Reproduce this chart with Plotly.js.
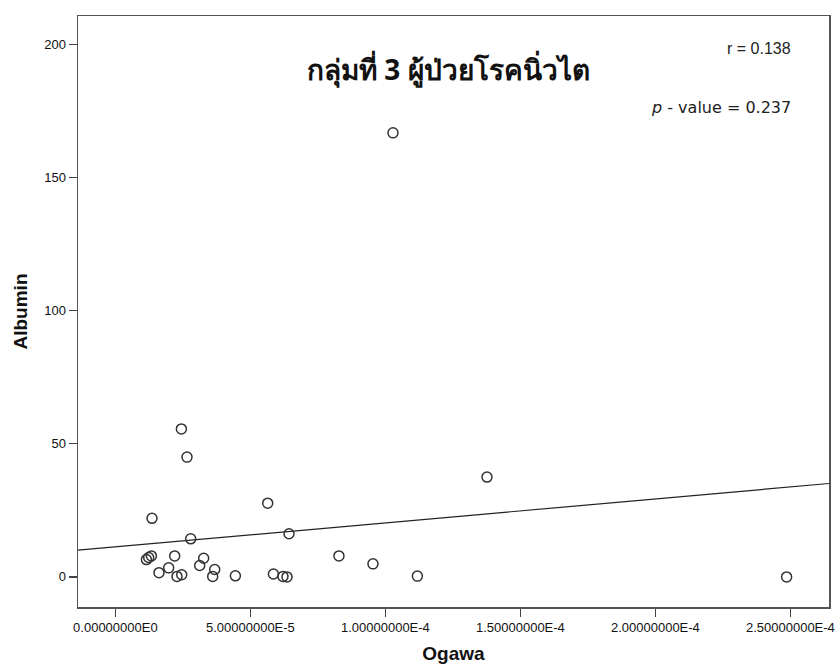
<!DOCTYPE html>
<html>
<head>
<meta charset="utf-8">
<script src="https://cdn.plot.ly/plotly-3.0.1.min.js"></script>
<style>html,body{margin:0;padding:0;background:#fff;}#chart{width:840px;height:668px;}</style>
</head>
<body>
<div id="chart"></div>
<script>
// Data
const ogawa = [2.444e-5, 2.652e-5, 5.641e-5, 1.356e-5, 2.789e-5, 6.430e-5,
  1.148e-5, 1.233e-5, 1.333e-5, 2.196e-5, 3.270e-5, 3.122e-5, 3.678e-5,
  1.974e-5, 1.615e-5, 2.281e-5, 2.456e-5, 3.604e-5, 4.444e-5, 5.852e-5,
  6.207e-5, 6.356e-5, 8.28e-5, 9.54e-5, 1.1185e-4, 1.3763e-4, 2.486e-4, 1.0281e-4];
const albumin = [55.6, 45.0, 27.7, 22.0, 14.3, 16.2,
  6.5, 7.3, 7.9, 7.9, 7.0, 4.3, 2.8,
  3.4, 1.6, 0.2, 0.8, 0.2, 0.4, 1.1,
  0.2, 0.0, 7.9, 4.9, 0.3, 37.5, 0.0, 166.8];
const fitIntercept = 11.28;   // fitted line
const fitSlope = 90093;
const xRange = [-1.385e-5, 2.643e-4];
const yRange = [-11.3, 210.7];
const xTicks = [0, 5e-5, 1e-4, 1.5e-4, 2e-4, 2.5e-4];
const xTickText = ["0.00000000E0", "5.00000000E-5", "1.00000000E-4", "1.50000000E-4", "2.00000000E-4", "2.50000000E-4"];
const yTicks = [0, 50, 100, 150, 200];
const titleText = "กลุ่มที่ 3 ผู้ป่วยโรคนิ่วไต";
const rText = "r = 0.138";
const pText = "<i>p</i>\u00A0-\u00A0value\u00A0=\u00A00.237";

const fitX = xRange.slice();
const fitY = fitX.map(x => fitIntercept + fitSlope * x);

const traces = [
  {x: fitX, y: fitY, mode: 'lines', type: 'scatter', line: {color: '#222', width: 1.2}, hoverinfo: 'skip'},
  {x: ogawa, y: albumin, mode: 'markers', type: 'scatter',
   marker: {symbol: 'circle-open', size: 10, color: '#333', line: {width: 1.5, color: '#333'}}}
];

const tickFont = {family: 'Liberation Sans, Arial, sans-serif', size: 13, color: '#111'};
const axTitleFont = {family: 'Liberation Sans Narrow, Arial Narrow, Liberation Sans, sans-serif', size: 19, color: '#111'};
const layout = {
  width: 840, height: 668,
  margin: {l: 78, r: 11, t: 16, b: 61},
  paper_bgcolor: '#fff', plot_bgcolor: '#fff',
  showlegend: false,
  xaxis: {
    range: xRange, tickvals: xTicks, ticktext: xTickText,
    showgrid: false, zeroline: false,
    showline: true, mirror: true, linecolor: '#555', linewidth: 1.5,
    ticks: 'outside', ticklen: 8, tickwidth: 1.3, tickcolor: '#444',
    tickfont: tickFont,
    title: {text: '<b>Ogawa</b>', font: axTitleFont, standoff: 12}
  },
  yaxis: {
    range: yRange, tickvals: yTicks,
    showgrid: false, zeroline: false,
    showline: true, mirror: true, linecolor: '#555', linewidth: 1.5,
    ticks: 'outside', ticklen: 8, tickwidth: 1.3, tickcolor: '#444',
    tickfont: tickFont,
    title: {text: '<b>Albumin</b>', font: axTitleFont, standoff: 11}
  },
  annotations: [
    {text: '<b>' + titleText + '</b>', xref: 'paper', yref: 'paper', x: 0.493, y: 0.91, xanchor: 'center', yanchor: 'middle', showarrow: false,
     font: {family: 'Noto Sans, sans-serif', size: 28, color: '#111'}},
    {text: rText, xref: 'paper', yref: 'paper', x: 0.952, y: 0.945, xanchor: 'right', yanchor: 'middle', showarrow: false,
     font: {family: 'Liberation Sans, sans-serif', size: 16, color: '#222'}},
    {text: pText, xref: 'paper', yref: 'paper', x: 0.952, y: 0.845, xanchor: 'right', yanchor: 'middle', showarrow: false,
     font: {family: 'DejaVu Sans, sans-serif', size: 16, color: '#222'}}
  ]
};
Plotly.newPlot('chart', traces, layout, {staticPlot: true});
</script>
</body>
</html>
